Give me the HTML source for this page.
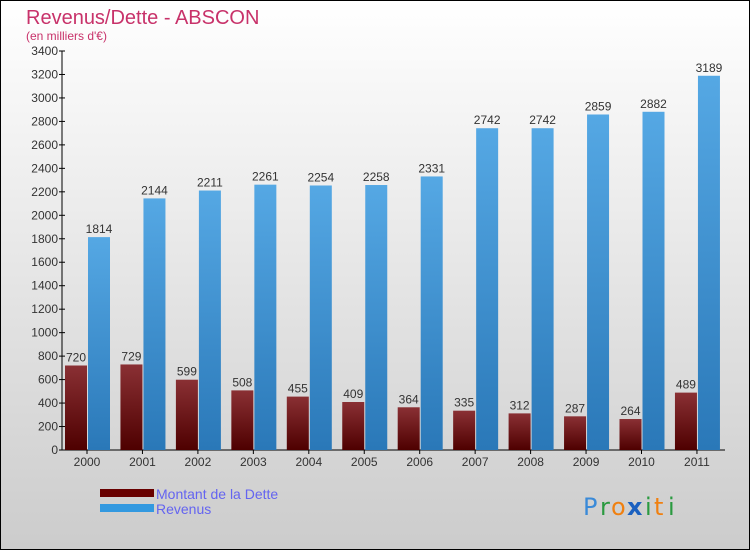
<!DOCTYPE html>
<html><head><meta charset="utf-8"><style>
body{margin:0}
svg{display:block;font-family:"Liberation Sans",sans-serif}
</style></head><body>
<svg id="c" width="750" height="550" xmlns="http://www.w3.org/2000/svg">
<defs>
<linearGradient id="bg" x1="0" y1="0" x2="0" y2="1"><stop offset="0" stop-color="#ffffff"/><stop offset="1" stop-color="#cccccc"/></linearGradient>
<linearGradient id="gd" x1="0" y1="0" x2="0" y2="1"><stop offset="0" stop-color="#8a3034"/><stop offset="1" stop-color="#4e0000"/></linearGradient>
<linearGradient id="gr" x1="0" y1="0" x2="0" y2="1"><stop offset="0" stop-color="#55a8e4"/><stop offset="1" stop-color="#2a78b8"/></linearGradient>
</defs>
<rect x="0.5" y="0.5" width="749" height="549" fill="url(#bg)" stroke="#000"/>
<text x="26" y="24" font-size="20" fill="#c8326a">Revenus/Dette - ABSCON</text>
<text x="26" y="40" font-size="12" fill="#c8326a">(en milliers d'€)</text>
<g id="axes"></g>
<g id="bars"></g>
<rect x="100" y="489" width="54" height="8" fill="#680000"/>
<text x="156" y="499" font-size="14" fill="#6464f0">Montant de la Dette</text>
<rect x="100" y="504" width="54" height="8" fill="#3399e0"/>
<text x="156" y="514" font-size="14" fill="#6464f0">Revenus</text>
<g font-size="24" font-family="'DejaVu Sans',sans-serif">
<text x="583" y="515" fill="#3a8ad8">P</text><text x="600" y="515" fill="#2a9a40">r</text><text x="611" y="515" fill="#f08010">o</text><text x="627" y="515" fill="#1a60c0" font-weight="bold">x</text><text x="645" y="515" fill="#2a9a40">i</text><text x="654" y="515" fill="#f08010">t</text><text x="668" y="515" fill="#2a9a40">i</text>
</g>
</svg>
<script>
const categories=["2000","2001","2002","2003","2004","2005","2006","2007","2008","2009","2010","2011"];
const dette=[720,729,599,508,455,409,364,335,312,287,264,489];
const revenus=[1814,2144,2211,2261,2254,2258,2331,2742,2742,2859,2882,3189];
const yTicks=[0,200,400,600,800,1000,1200,1400,1600,1800,2000,2200,2400,2600,2800,3000,3200,3400];
const NS="http://www.w3.org/2000/svg";
const y0=450,yTop=51,yMax=3400,x0=62,step=55.45,firstX=87;
const y=v=>y0-(v/yMax)*(y0-yTop);
const x=i=>firstX+i*step;
function mk(tag,attrs,parent,txt){const e=document.createElementNS(NS,tag);for(const k in attrs)e.setAttribute(k,attrs[k]);if(txt!==undefined)e.textContent=txt;parent.appendChild(e);return e;}
const ax=document.getElementById('axes'),bars=document.getElementById('bars');
let l=mk('line',{x1:x0,y1:yTop,x2:x0,y2:y0,stroke:'#000'},ax);


l=mk('line',{x1:x0,y1:y0,x2:725,y2:y0,stroke:'#000'},ax);


yTicks.forEach(v=>{
 const t=mk('line',{x1:x0-3,x2:x0+3,y1:y(v),y2:y(v),stroke:'#000'},ax);
 
 
 const tx=mk('text',{x:x0-4,y:y(v)+4,'font-size':12,'text-anchor':'end',fill:'#333'},ax,v);
 
 
});
categories.forEach((c,i)=>{
 const cx=x(i);
 const t=mk('line',{x1:cx,x2:cx,y1:y0,y2:y0+4,stroke:'#000'},ax);
 
 
 const tx=mk('text',{x:cx,y:y0+16,'font-size':12,'text-anchor':'middle',fill:'#333'},ax,c);
 
 
 const bd=mk('rect',{x:cx-22,y:y(dette[i]),width:22,height:y0-y(dette[i]),fill:'url(#gd)'},bars);
 
 
 const br=mk('rect',{x:cx+1,y:y(revenus[i]),width:22,height:y0-y(revenus[i]),fill:'url(#gr)'},bars);
 
 
 const ld=mk('text',{x:cx-11,y:y(dette[i])-4,'font-size':12,'text-anchor':'middle',fill:'#333'},bars,dette[i]);
 
 
 const lr=mk('text',{x:cx+12,y:y(revenus[i])-4,'font-size':12,'text-anchor':'middle',fill:'#333'},bars,revenus[i]);
 
 
});
</script>
</body></html>
